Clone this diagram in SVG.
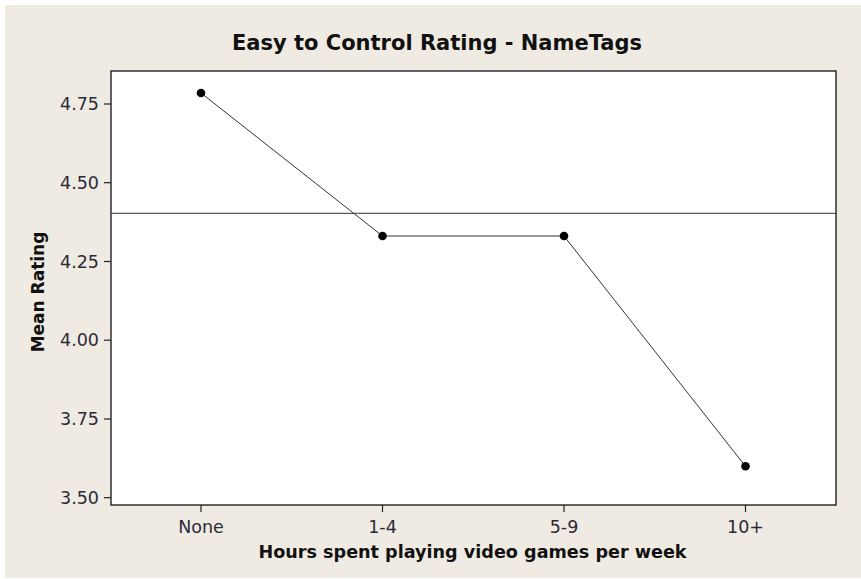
<svg xmlns="http://www.w3.org/2000/svg" width="861" height="579" viewBox="0 0 861 579">
  <style>
    .tick { stroke: #222; stroke-width: 1.2; }
    .tlabel { font-family: "DejaVu Sans", "Liberation Sans", sans-serif; font-size: 17.5px; fill: #2a2a38; }
    .title { font-family: "DejaVu Sans", "Liberation Sans", sans-serif; font-weight: bold; fill: #111; }
    .series { fill: none; stroke: #333; stroke-width: 1; }
    .pt { fill: #000; }
  </style>
  <rect x="0" y="0" width="861" height="579" fill="#ffffff"/>
  <rect x="5" y="5" width="856" height="573" fill="#efebe2"/>

  <!-- chart title -->
  <text class="title" x="437" y="50" font-size="21" text-anchor="middle">Easy to Control Rating - NameTags</text>

  <!-- plot area -->
  <g id="plot-frame">
    <rect x="111" y="71" width="725" height="434" fill="#ffffff" stroke="#222" stroke-width="1.4"/>
  </g>

  <!-- y axis -->
  <g id="y-axis">
    <line class="tick" x1="104" y1="104" x2="111" y2="104"/>
    <line class="tick" x1="104" y1="182.7" x2="111" y2="182.7"/>
    <line class="tick" x1="104" y1="261.5" x2="111" y2="261.5"/>
    <line class="tick" x1="104" y1="340.2" x2="111" y2="340.2"/>
    <line class="tick" x1="104" y1="419" x2="111" y2="419"/>
    <line class="tick" x1="104" y1="497.7" x2="111" y2="497.7"/>
    <text class="tlabel" x="99" y="110" text-anchor="end">4.75</text>
    <text class="tlabel" x="99" y="188.7" text-anchor="end">4.50</text>
    <text class="tlabel" x="99" y="267.5" text-anchor="end">4.25</text>
    <text class="tlabel" x="99" y="346.2" text-anchor="end">4.00</text>
    <text class="tlabel" x="99" y="425" text-anchor="end">3.75</text>
    <text class="tlabel" x="99" y="503.7" text-anchor="end">3.50</text>
    <text class="title" font-size="17" text-anchor="middle" transform="translate(44 292) rotate(-90)">Mean Rating</text>
  </g>

  <!-- x axis -->
  <g id="x-axis">
    <line class="tick" x1="201" y1="505" x2="201" y2="512"/>
    <line class="tick" x1="382.5" y1="505" x2="382.5" y2="512"/>
    <line class="tick" x1="564" y1="505" x2="564" y2="512"/>
    <line class="tick" x1="745.5" y1="505" x2="745.5" y2="512"/>
    <text class="tlabel" x="201" y="533" text-anchor="middle">None</text>
    <text class="tlabel" x="382.5" y="533" text-anchor="middle">1-4</text>
    <text class="tlabel" x="564" y="533" text-anchor="middle">5-9</text>
    <text class="tlabel" x="745.5" y="533" text-anchor="middle">10+</text>
    <text class="title" x="472.5" y="558" font-size="17.6" text-anchor="middle">Hours spent playing video games per week</text>
  </g>

  <!-- overall mean reference line -->
  <g id="connectors">
    <line x1="111" y1="213.3" x2="836" y2="213.3" stroke="#333" stroke-width="1"/>
    <polyline class="series" points="201,93 382.5,236 564,236 745.5,466.3"/>
  </g>

  <!-- group means -->
  <g id="point-none"><circle class="pt" cx="201" cy="93" r="4.3"/></g>
  <g id="point-1-4"><circle class="pt" cx="382.5" cy="236" r="4.3"/></g>
  <g id="point-5-9"><circle class="pt" cx="564" cy="236" r="4.3"/></g>
  <g id="point-10plus"><circle class="pt" cx="745.5" cy="466.3" r="4.3"/></g>
</svg>
